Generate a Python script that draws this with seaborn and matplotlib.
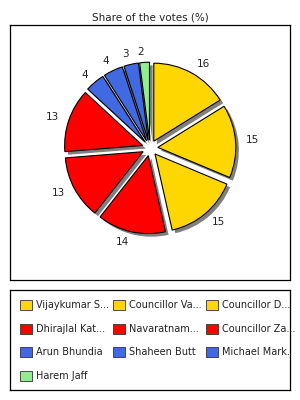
import matplotlib
matplotlib.use("Agg")
import matplotlib.pyplot as plt
import matplotlib.patches as mpatches
from matplotlib.legend import Legend
import seaborn as sns

candidates = ["Vijaykumar S...", "Councillor Va...", "Councillor D...",
              "Dhirajlal Kat...", "Navaratnam...", "Councillor Za...",
              "Arun Bhundia", "Shaheen Butt", "Michael Mark.", "Harem Jaff"]
votes = [16, 15, 15, 14, 13, 13, 4, 4, 3, 2]
colors = ["#FFD700", "#FFD700", "#FFD700", "#FF0000", "#FF0000", "#FF0000",
          "#4169E1", "#4169E1", "#4169E1", "#90EE90"]
title = "Share of the votes (%)"

sns.set_theme(style="white")
plt.rcParams["font.family"] = ["DejaVu Sans"]

fig = plt.figure(figsize=(3, 4), dpi=100)
fig.patch.set_facecolor("white")

XL = (-1.795, 1.795)
YL = (-1.692, 1.577)

# chart box
ax = fig.add_axes([10/300, 1-280/400, 280/300, 255/400])

explode = [0.1] * len(votes)
# shadow
ax.pie(votes, explode=explode, colors=["#808080"] * len(votes), startangle=90,
       counterclock=False, center=(0.04, -0.04), radius=1.0,
       wedgeprops=dict(linewidth=0), frame=True)
wedges, texts = ax.pie(votes, explode=explode, colors=colors, startangle=90,
                       counterclock=False, radius=1.0, labels=[str(v) for v in votes],
                       labeldistance=1.13, frame=True,
                       wedgeprops=dict(edgecolor="black", linewidth=0.8),
                       textprops=dict(fontsize=7.5, color="#222222"))
ax.set_xlim(*XL)
ax.set_ylim(*YL)
ax.set_aspect("auto")
ax.set_xticks([])
ax.set_yticks([])
for s in ax.spines.values():
    s.set_visible(True)
    s.set_color("black")
    s.set_linewidth(0.9)

fig.text(0.5, 1-17/400, title, ha="center", va="center", fontsize=7.5, color="#222222")

# legend box
lax = fig.add_axes([10/300, 1-390/400, 280/300, 100/400])
lax.set_xticks([])
lax.set_yticks([])
for s in lax.spines.values():
    s.set_visible(True)
    s.set_color("black")
    s.set_linewidth(0.9)

col_x = [20, 113, 206]
for j in range(3):
    idx = list(range(j, len(candidates), 3))
    handles = [mpatches.Patch(facecolor=colors[i], edgecolor="#333333", linewidth=0.6) for i in idx]
    labels = [candidates[i] for i in idx]
    leg = Legend(lax, handles, labels, loc="upper left",
                 bbox_to_anchor=((col_x[j] - 10) / 280, 1 - (300 - 290) / 100),
                 frameon=False, fontsize=7, handlelength=1.25, handleheight=1.25,
                 handletextpad=0.35, labelspacing=1.35,
                 borderaxespad=0.0, borderpad=0.0)
    for t in leg.get_texts():
        t.set_color("#222222")
    lax.add_artist(leg)

fig.savefig("out.png", dpi=100, facecolor="white")
